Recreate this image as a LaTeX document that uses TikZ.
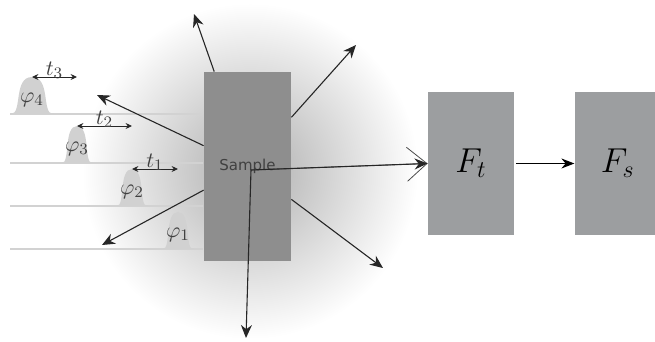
\documentclass[tikz,border=0pt]{standalone}
\usepackage{amsmath,amssymb}
\usepackage{fontspec}
\newfontfamily\samplefont{DejaVu Sans}
\usepackage{tikz}
\usetikzlibrary{positioning,arrows.meta,calc}
\definecolor{boxgray}{HTML}{9C9EA0}
\definecolor{samplegray}{HTML}{8E8E8E}

\begin{document}
\begin{tikzpicture}[
  x=0.5pt, y=-0.5pt,
  >=Stealth,
  samplebox/.style={fill=samplegray, minimum width=43.5pt, minimum height=94.5pt, inner sep=0pt, font=\samplefont\fontsize{7.5}{8}\selectfont, text=black!75},
  filterbox/.style={fill=boxgray, minimum width=43pt, minimum height=71.5pt, inner sep=0pt, font=\fontsize{18}{20}\selectfont},
  scatmap/.style={-{Stealth[length=6.5pt,width=5.5pt]}, draw=black!85, line width=0.55pt},
  delaymap/.style={{Stealth[length=3.2pt,width=3pt]}-{Stealth[length=3.2pt,width=3pt]}, draw=black!85, line width=0.45pt},
  pulseline/.style={draw=gray!35, line width=0.7pt},
  pulsefill/.style={fill=gray!36},
  lbl/.style={font=\fontsize{11}{12}\selectfont, text=black!75, inner sep=1pt}
]
  \useasboundingbox (0,0) rectangle (655,342);
  \shade[inner color=black!32, outer color=white] (250,171) circle (84pt);
  \foreach \c/\b/\w/\i in {32/114/21/4, 77/163/15/3, 132/206/15/2, 178/249/15/1} {
    \draw[pulseline] (10,\b) -- (203,\b);
    \fill[pulsefill] (\c-\w,\b) .. controls (\c-0.45*\w,\b) and (\c-0.9*\w,\b-37) .. (\c,\b-37) .. controls (\c+0.9*\w,\b-37) and (\c+0.45*\w,\b) .. (\c+\w,\b) -- cycle;
    \coordinate (p\i) at (\c,\b-37);
    \node[lbl] (phi\i) at (\c,\b-14) {$\varphi_{\i}$};
  }
  \foreach \i/\j in {4/3, 3/2, 2/1} {
    \draw[delaymap] (p\i) -- (p\i -| p\j) node[midway, above=-2pt, lbl] (t\j) {$t_{\j}$};
  }
  \node[samplebox] (sample) at (247.5,166.5) {Sample};
  \coordinate (scat) at (251,170);
  \coordinate (uTop) at (194,14);
  \coordinate (uUR) at (356,45);
  \coordinate (uLR) at (383,268);
  \coordinate (uUL) at (97,95);
  \coordinate (uLL) at (102,245);
  \coordinate (uDn) at (246,338);
  \foreach \e in {uTop, uUR, uLR, uUL, uLL} {
    \draw[scatmap] (sample) -- (\e);
  }
  \node[filterbox] (Ft) at (471,163.5) {$F_t$};
  \node[filterbox, right=30pt of Ft] (Fs) {$F_s$};
  \draw[scatmap] (scat) -- (uDn);
  \draw[-{Straight Barb[length=10pt,width=17pt]}, draw=black!70, line width=0.4pt] (scat) -- (Ft.west);
  \draw[scatmap] (scat) -- (Ft.west);
  \draw[-{Stealth[length=6.5pt,width=5pt]}, line width=0.5pt, shorten <=1pt] (Ft) -- (Fs);
\end{tikzpicture}
\end{document}
